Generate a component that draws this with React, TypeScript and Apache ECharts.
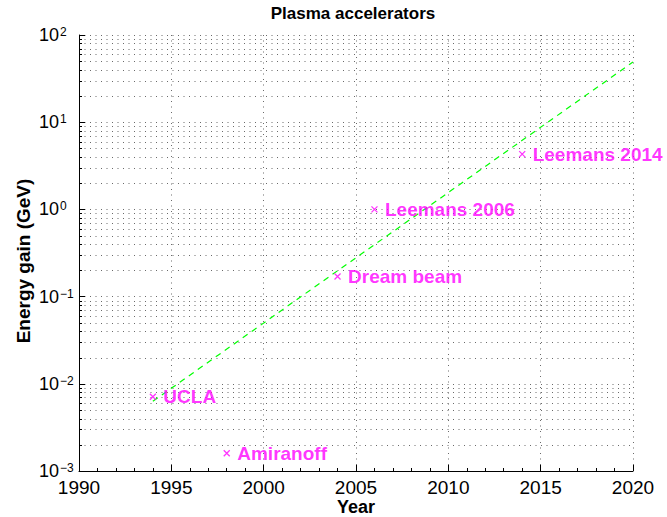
import React, { useEffect, useRef } from "react";
import * as echarts from "echarts";

const TITLE = "Plasma accelerators";
const X_NAME = "Year";
const Y_NAME = "Energy gain (GeV)";

const POINT_NAMES = ["UCLA", "Amiranoff", "Dream beam", "Leemans 2006", "Leemans 2014"];
const POINT_YEARS = [1994, 1998, 2004, 2006, 2014];
const POINT_GEV = [0.0071, 0.0016, 0.17, 1.0, 4.3];

const TREND_YEARS = [1994, 2020];
const TREND_GEV = [0.0063, 49];

const X_MIN = 1990;
const X_MAX = 2020;
const Y_MIN = 0.001;
const Y_MAX = 100;
const DECADES = [-3, -2, -1, 0, 1];
const MINOR_MULTIPLIERS = [2, 3, 4, 5, 6, 7, 8, 9];

const FONT = "'Liberation Sans', Arial, Helvetica, sans-serif";
const MAGENTA = "#ff00ff";
const GRID_COLOR = "#6a6a6a";

export default function App() {
  const ref = useRef<HTMLDivElement>(null);

  useEffect(() => {
    if (!ref.current) return;
    const chart = echarts.init(ref.current, null, { renderer: "svg" });

    const minorValues: number[][] = [];
    DECADES.forEach((d) => {
      MINOR_MULTIPLIERS.forEach((k) => {
        minorValues.push([X_MIN, k * Math.pow(10, d)]);
      });
    });

    const supFmt = (v: number) => {
      const e = Math.round(Math.log10(v));
      const s = e < 0 ? "\u2212" + String(-e) : String(e);
      return `{b|10}{e|${s}}`;
    };

    const option: any = {
      animation: false,
      backgroundColor: "#fff",
      title: {
        text: TITLE,
        left: 348,
        textAlign: "center",
        top: 0,
        textStyle: { fontFamily: FONT, fontSize: 17, fontWeight: "bold", color: "#000" },
      },
      grid: { left: 79, right: 34, top: 35, bottom: 46, outerBoundsMode: "none" },
      xAxis: {
        type: "value",
        min: X_MIN,
        max: X_MAX,
        interval: 5,
        name: X_NAME,
        nameLocation: "middle",
        nameGap: 27,
        nameMoveOverlap: false,
        nameTextStyle: { fontFamily: FONT, fontSize: 18, fontWeight: "bold", color: "#000", lineHeight: 18 },
        axisLine: { show: true, lineStyle: { color: "#000", width: 1 } },
        axisTick: { show: true, inside: true, length: 6, lineStyle: { color: "#000" } },
        minorTick: { show: true, splitNumber: 5, length: 3, lineStyle: { color: "#000" } },
        axisLabel: {
          fontFamily: FONT,
          fontSize: 19,
          color: "#000",
          margin: 7,
          formatter: (v: number) => String(v),
        },
        splitLine: { show: true, lineStyle: { color: GRID_COLOR, type: [1, 4.5], width: 1 } },
      },
      yAxis: {
        type: "log",
        logBase: 10,
        min: Y_MIN,
        max: Y_MAX,
        name: Y_NAME,
        nameLocation: "middle",
        nameGap: 46,
        nameMoveOverlap: false,
        nameTextStyle: {
          fontFamily: FONT,
          fontSize: 19,
          fontWeight: "bold",
          color: "#000",
          padding: [0, 16, 0, 0],
        },
        axisLine: { show: true, lineStyle: { color: "#000", width: 1 } },
        axisTick: { show: true, inside: true, length: 6, lineStyle: { color: "#000" } },
        axisLabel: {
          align: "left",
          margin: 40,
          formatter: supFmt,
          rich: {
            b: { fontFamily: FONT, fontSize: 18, lineHeight: 18, color: "#000", verticalAlign: "bottom" },
            e: {
              fontFamily: FONT,
              fontSize: 12,
              lineHeight: 12,
              color: "#000",
              verticalAlign: "top",
              padding: [0, 0, 10, 1],
            },
          },
        },
        splitLine: { show: true, lineStyle: { color: GRID_COLOR, type: [1, 4.5], width: 1 } },
      },
      series: [
        {
          type: "custom",
          silent: true,
          z: 1,
          encode: { x: 0, y: 1 },
          data: minorValues,
          renderItem: (params: any, api: any) => {
            const v = api.value(1);
            const p1 = api.coord([X_MIN, v]);
            const p2 = api.coord([X_MAX, v]);
            const y = Math.round(p1[1]) + 0.5;
            return {
              type: "group",
              children: [
                {
                  type: "line",
                  shape: { x1: p1[0], y1: y, x2: p2[0], y2: y },
                  style: { stroke: GRID_COLOR, lineWidth: 1, lineDash: [1, 4.5] },
                },
                {
                  type: "line",
                  shape: { x1: p1[0], y1: y, x2: p1[0] + 3, y2: y },
                  style: { stroke: "#000", lineWidth: 1 },
                },
              ],
            };
          },
        },
        {
          type: "line",
          z: 3,
          data: TREND_YEARS.map((x, i) => [x, TREND_GEV[i]]),
          symbol: "none",
          lineStyle: { color: "#00ff00", width: 1.2, type: [6, 5] },
        },
        {
          type: "scatter",
          z: 4,
          symbol: "path://M0 0L10 10M10 0L0 10",
          symbolSize: 6,
          itemStyle: { color: "none", borderColor: MAGENTA, borderWidth: 1.3 },
          data: POINT_NAMES.map((n, i) => ({ name: n, value: [POINT_YEARS[i], POINT_GEV[i]] })),
          label: {
            show: true,
            position: "right",
            distance: 5,
            formatter: "{b}",
            fontFamily: FONT,
            fontSize: 19,
            fontWeight: "bold",
            color: MAGENTA,
          },
        },
      ],
    };

    chart.setOption(option);
    return () => chart.dispose();
  }, []);

  return (
    <div
      ref={ref}
      style={{ position: "absolute", left: 0, top: 0, width: 667, height: 517, background: "#fff" }}
    />
  );
}
